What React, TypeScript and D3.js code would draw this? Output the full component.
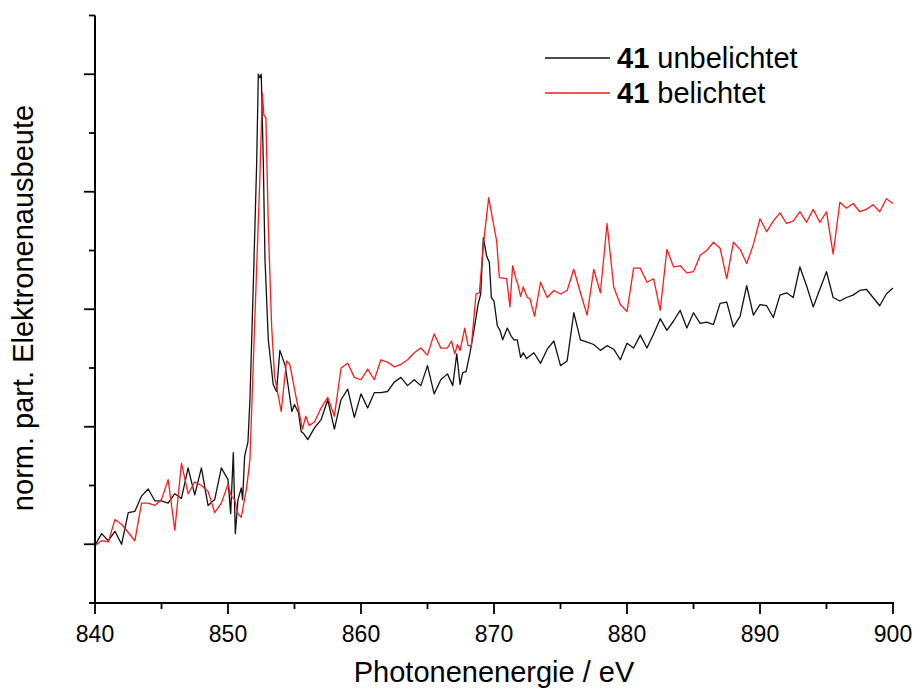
import React, { useEffect, useRef } from 'react';
import * as d3 from 'd3';

// energies (eV) and normalised partial electron yield
const energyUnexposed: number[] = [
  840, 840.5, 841, 841.5, 842, 842.5, 843, 843.5, 844, 844.5, 845, 845.5, 846, 846.5, 847, 847.5, 848, 848.5, 849, 849.5,
  850, 850.2, 850.4, 850.55, 850.75, 851, 851.1, 851.25, 851.5, 851.65, 851.9, 852.15, 852.28, 852.4, 852.5, 852.65, 852.78,
  853.03, 853.4, 853.65, 853.9, 854.3, 854.8, 855, 855.3, 855.5, 855.7, 856, 856.5, 857, 857.5, 858, 858.5, 859, 859.5,
  860, 860.5, 861, 861.5, 862, 862.5, 863, 863.5, 864, 864.5, 865, 865.5, 866, 866.5, 866.9, 867.2, 867.45, 867.65, 867.9,
  868.2, 868.55, 868.8, 869, 869.2, 869.45, 869.65, 869.8, 870, 870.25, 870.45, 870.65, 871, 871.3, 871.5, 871.75, 872,
  872.2, 872.45, 873, 873.5, 874, 874.5, 875, 875.5, 876, 876.5, 877, 877.5, 878, 878.5, 879, 879.5, 880, 880.5, 881,
  881.5, 882, 882.5, 883, 883.5, 884, 884.5, 885, 885.5, 886, 886.5, 887, 887.5, 888, 888.5, 889, 889.5, 890, 890.5,
  891, 891.5, 892, 892.5, 893, 893.5, 894, 894.5, 895, 895.5, 896, 896.5, 897, 897.5, 898, 898.5, 899, 899.5, 900,
];
const yieldUnexposed: number[] = [
  -0.01, 0.09, 0.03, 0.11, 0.0, 0.27, 0.28, 0.41, 0.47, 0.37, 0.37, 0.35, 0.43, 0.39, 0.65, 0.42, 0.65, 0.33, 0.38, 0.65,
  0.55, 0.26, 0.78, 0.09, 0.38, 0.48, 0.38, 0.75, 0.87, 1.23, 2.2, 3.22, 4.0, 3.97, 4.0, 3.28, 2.43,
  1.74, 1.36, 1.3, 1.65, 1.52, 1.13, 1.19, 1.12, 0.96, 0.94, 0.89, 0.99, 1.06, 1.23, 0.98, 1.23, 1.32, 1.08,
  1.28, 1.16, 1.29, 1.29, 1.3, 1.38, 1.42, 1.35, 1.4, 1.35, 1.52, 1.28, 1.4, 1.45, 1.35, 1.62, 1.36, 1.46, 1.47,
  1.63, 1.86, 2.04, 2.13, 2.61, 2.45, 2.4, 2.1, 2.07, 1.86, 1.82, 1.74, 1.84, 1.77, 1.74, 1.74, 1.59,
  1.63, 1.58, 1.63, 1.54, 1.66, 1.73, 1.52, 1.56, 1.97, 1.74, 1.72, 1.7, 1.65, 1.69, 1.66, 1.57, 1.71, 1.67, 1.78,
  1.67, 1.79, 1.92, 1.82, 1.9, 1.99, 1.84, 1.97, 1.88, 1.89, 1.87, 2.05, 2.06, 1.85, 1.94, 2.2, 1.95, 2.04, 2.03,
  1.93, 2.12, 2.14, 2.1, 2.36, 2.2, 2.02, 2.17, 2.32, 2.1, 2.07, 2.1, 2.12, 2.16, 2.17, 2.1, 2.03, 2.13, 2.18,
];

const energyExposed: number[] = [
  840, 840.5, 841, 841.5, 842, 842.5, 843, 843.5, 844, 844.5, 845, 845.5, 846, 846.5, 847, 847.5, 848, 848.5, 849, 849.5,
  850, 850.25, 850.5, 850.75, 851, 851.4, 851.65, 852, 852.4, 852.58, 852.7, 852.85, 853.03, 853.28, 853.5, 854, 854.4,
  854.65, 855, 855.6, 855.85, 856.1, 856.5, 857, 857.5, 858, 858.5, 859, 859.5, 860, 860.5, 861, 861.5, 862, 862.5,
  863, 863.5, 864, 864.5, 865, 865.5, 866, 866.5, 866.8, 867.05, 867.25, 867.45, 867.8, 868.05, 868.3, 868.65, 868.9,
  869.2, 869.6, 870.2, 870.4, 870.95, 871.2, 871.4, 871.65, 871.8, 872, 872.2, 872.5, 872.7, 873.05, 873.5, 874, 874.5,
  875, 875.5, 876, 876.5, 877, 877.5, 878, 878.5, 879, 879.5, 880, 880.5, 881, 881.5, 882, 882.5, 883, 883.5, 884,
  884.5, 885, 885.5, 886, 886.5, 887, 887.5, 888, 888.5, 889, 889.5, 890, 890.5, 891, 891.5, 892, 892.5, 893, 893.5,
  894, 894.5, 895, 895.5, 896, 896.5, 897, 897.5, 898, 898.5, 899, 899.5, 900,
];
const yieldExposed: number[] = [
  -0.01, 0.03, 0.02, 0.21, 0.17, 0.1, 0.03, 0.35, 0.35, 0.33, 0.38, 0.55, 0.12, 0.69, 0.43, 0.53, 0.5, 0.45, 0.27, 0.35,
  0.51, 0.41, 0.38, 0.26, 0.23, 0.48, 0.72, 1.86, 3.13, 3.84, 3.65, 3.63, 2.71, 1.86, 1.43, 1.13, 1.56,
  1.53, 1.32, 0.98, 1.09, 1.01, 1.04, 1.16, 1.25, 1.09, 1.5, 1.54, 1.42, 1.4, 1.49, 1.4, 1.57, 1.55, 1.51,
  1.53, 1.57, 1.63, 1.67, 1.61, 1.79, 1.67, 1.67, 1.73, 1.62, 1.7, 1.65, 1.84, 1.69, 1.69, 2.13, 2.14,
  2.55, 2.95, 2.58, 2.27, 2.26, 2.02, 2.37, 2.26, 2.21, 2.11, 2.19, 2.1, 2.09, 1.94, 2.23, 2.1, 2.16,
  2.13, 2.16, 2.34, 2.14, 1.95, 2.34, 2.14, 2.73, 2.19, 2.04, 1.98, 2.35, 2.35, 2.23, 2.26, 1.99, 2.51, 2.36, 2.37,
  2.31, 2.32, 2.46, 2.5, 2.57, 2.52, 2.26, 2.57, 2.51, 2.39, 2.55, 2.77, 2.66, 2.75, 2.82, 2.73, 2.75, 2.83, 2.74,
  2.85, 2.74, 2.83, 2.47, 2.91, 2.86, 2.9, 2.83, 2.85, 2.89, 2.83, 2.94, 2.9,
];

const xTicks: number[] = [840, 850, 860, 870, 880, 890, 900];
const seriesNames: string[] = ['unbelichtet', 'belichtet'];
const seriesColors: string[] = ['#111111', '#ff1a1a'];

const W = 915;
const H = 690;
const FONT = '"Liberation Sans", Arial, sans-serif';

const App: React.FC = () => {
  const svgRef = useRef<SVGSVGElement | null>(null);

  useEffect(() => {
    const svg = d3.select(svgRef.current);
    svg.selectAll('*').remove();

    const x = d3.scaleLinear().domain([840, 900]).range([95, 893]);
    const y = d3.scaleLinear().domain([-0.5, 4.5]).range([603, 15.5]);

    const line = d3.line<[number, number]>()
      .x(d => x(d[0]))
      .y(d => y(d[1]));

    const series: [number, number][][] = [
      energyUnexposed.map((e, i) => [e, yieldUnexposed[i]]),
      energyExposed.map((e, i) => [e, yieldExposed[i]]),
    ];

    svg.append('g')
      .selectAll('path')
      .data(series)
      .join('path')
      .attr('d', d => line(d))
      .attr('fill', 'none')
      .attr('stroke', (_, i) => seriesColors[i])
      .attr('stroke-width', 1.3)
      .attr('stroke-linejoin', 'round');

    // x axis
    const xMinor = d3.range(845, 900, 10);
    const gx = svg.append('g').attr('transform', `translate(0,${y(-0.5)})`);
    gx.append('line').attr('x1', 89).attr('x2', 894).attr('stroke', '#000').attr('stroke-width', 2);
    gx.selectAll('line.major').data(xTicks).join('line').classed('major', true)
      .attr('x1', d => x(d)).attr('x2', d => x(d)).attr('y1', 0).attr('y2', 11)
      .attr('stroke', '#000').attr('stroke-width', 1.8);
    gx.selectAll('line.minor').data(xMinor).join('line').classed('minor', true)
      .attr('x1', d => x(d)).attr('x2', d => x(d)).attr('y1', 0).attr('y2', 6)
      .attr('stroke', '#000').attr('stroke-width', 1.8);
    gx.selectAll('text').data(xTicks).join('text')
      .attr('x', d => x(d)).attr('y', 38.5)
      .attr('text-anchor', 'middle')
      .attr('font-family', FONT).attr('font-size', 23)
      .text(d => d);

    // y axis (no labels)
    const yMajor = d3.range(0, 4.01, 1);
    const yMinor = d3.range(-0.5, 4.51, 1);
    const gy = svg.append('g').attr('transform', 'translate(95,0)');
    gy.append('line').attr('y1', y(-0.5) + 1).attr('y2', y(4.5)).attr('stroke', '#000').attr('stroke-width', 2);
    gy.selectAll('line.major').data(yMajor).join('line').classed('major', true)
      .attr('y1', d => y(d)).attr('y2', d => y(d)).attr('x1', 0).attr('x2', -11)
      .attr('stroke', '#000').attr('stroke-width', 1.8);
    gy.selectAll('line.minor').data(yMinor).join('line').classed('minor', true)
      .attr('y1', d => y(d)).attr('y2', d => y(d)).attr('x1', 0).attr('x2', -6)
      .attr('stroke', '#000').attr('stroke-width', 1.8);

    // axis titles
    svg.append('text')
      .attr('x', 494).attr('y', 682)
      .attr('text-anchor', 'middle')
      .attr('font-family', FONT).attr('font-size', 29)
      .text('Photonenenergie / eV');
    svg.append('text')
      .attr('transform', 'translate(33,308) rotate(-90)')
      .attr('text-anchor', 'middle')
      .attr('font-family', FONT).attr('font-size', 29)
      .text('norm. part. Elektronenausbeute');

    // legend
    const leg = svg.append('g').attr('transform', 'translate(545,58)');
    seriesNames.forEach((name, i) => {
      const row = leg.append('g').attr('transform', `translate(0,${i * 35})`);
      row.append('line').attr('x1', 0).attr('x2', 65)
        .attr('stroke', seriesColors[i]).attr('stroke-width', 1.3);
      const t = row.append('text').attr('x', 72).attr('y', 10)
        .attr('font-family', FONT).attr('font-size', 29);
      t.append('tspan').attr('font-weight', 'bold').text('41');
      t.append('tspan').text(' ' + name);
    });

    return () => {
      svg.selectAll('*').remove();
    };
  }, []);

  return (
    <svg ref={svgRef} width={W} height={H}
      style={{ position: 'absolute', left: 0, top: 0, background: '#fff' }} />
  );
};

export default App;
